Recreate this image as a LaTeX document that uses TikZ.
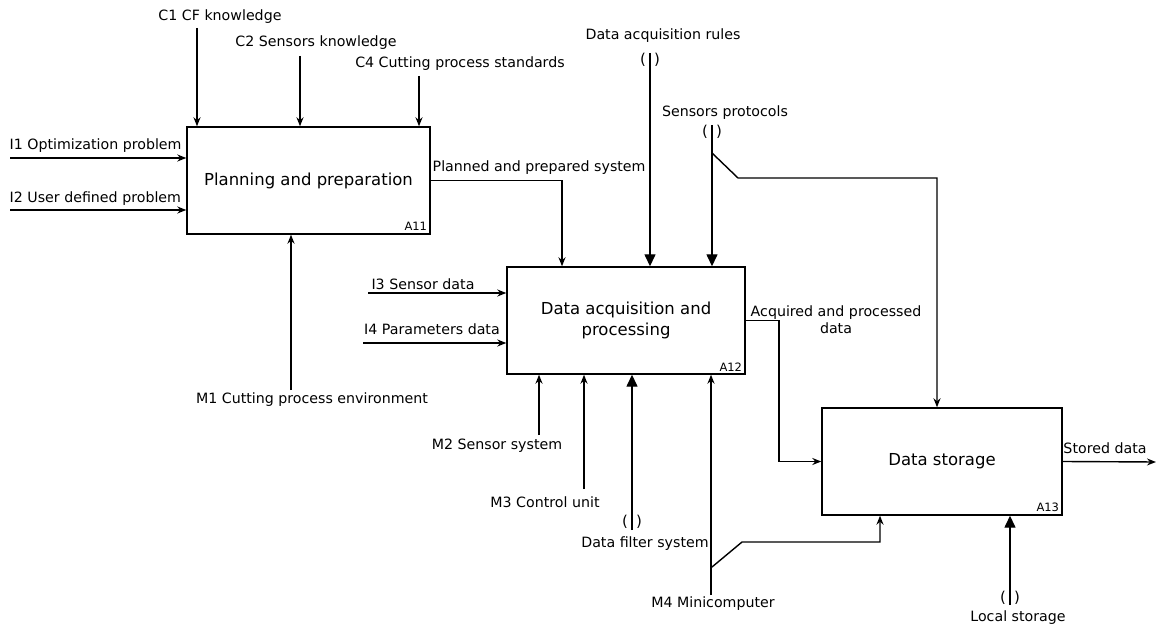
\documentclass[tikz,border=0pt]{standalone}
\usepackage{fontspec}
\setmainfont{DejaVu Sans}
\usetikzlibrary{arrows.meta}

\begin{document}
\begin{tikzpicture}[x=1pt, y=-1pt, line width=1.4pt,
    act/.style={draw, rectangle, minimum width=240pt, minimum height=107pt, align=center, font=\fontsize{16.5}{21}\selectfont},
    lbl/.style={font=\fontsize{14.2}{17}\selectfont, inner sep=1pt, align=center},
    tag/.style={font=\fontsize{11.5}{13}\selectfont, anchor=south east, inner sep=3pt},
    arr/.style={-{Stealth[length=9pt,width=7pt]}},
    tun/.style={-{Triangle[length=12pt,width=11pt]}},
    par/.style={font=\fontsize{15}{17}\selectfont, inner sep=0pt}]
  \useasboundingbox (0,0) rectangle (1157,628);

  % activity boxes
  \node[act, minimum width=243pt] (pp) at (308.5,180.5) {Planning and preparation};
  \node[act, minimum width=238pt] (dap) at (626,320.5) {Data acquisition and\\processing};
  \node[act] (ds) at (942,461.5) {Data storage};
  \node[tag] (pp-id) at (pp.south east) {A11};
  \node[tag] (dap-id) at (dap.south east) {A12};
  \node[tag] (ds-id) at (ds.south east) {A13};

  % labels
  \node[lbl] (c1) at (220,17) {C1 CF knowledge};
  \node[lbl] (c2) at (316,43) {C2 Sensors knowledge};
  \node[lbl] (c4) at (460,64) {C4 Cutting process standards};
  \node[lbl, anchor=west] (i1) at (8,146) {I1 Optimization problem};
  \node[lbl, anchor=west] (i2) at (8,199) {I2 User defined problem};
  \node[lbl] (m1) at (312,400) {M1 Cutting process environment};
  \node[lbl, anchor=west] (pl) at (431,168) {Planned and prepared system};
  \node[lbl] (rl) at (663,36) {Data acquisition rules};
  \node[lbl] (pr) at (725,113) {Sensors protocols};
  \node[lbl] (i3) at (423,284) {I3 Sensor data};
  \node[lbl] (i4) at (432,329) {I4 Parameters data};
  \node[lbl] (m2) at (497,446) {M2 Sensor system};
  \node[lbl] (m3) at (545,502) {M3 Control unit};
  \node[lbl] (fi) at (645,544) {Data filter system};
  \node[lbl] (m4) at (713,604) {M4 Minicomputer};
  \node[lbl] (ac) at (836,320) {Acquired and processed\\data};
  \node[lbl] (st) at (1105,448) {Stored data};
  \node[lbl] (lo) at (1018,618) {Local storage};

  % tunnels
  \node[par] (t1) at (650,60) {(\hspace{8pt})};
  \node[par] (t2) at (712,132) {(\hspace{8pt})};
  \node[par] (t3) at (632,522) {(\hspace{8pt})};
  \node[par] (t4) at (1010,598) {(\hspace{8pt})};

  % free ends and bends
  \coordinate (c1s) at (197,28);
  \coordinate (c2s) at (300,56);
  \coordinate (c4s) at (419,76);
  \coordinate (i1s) at (10,158);
  \coordinate (i2s) at (10,210);
  \coordinate (m1s) at (291,390);
  \coordinate (rls) at (650,53);
  \coordinate (prs) at (712,125);
  \coordinate (i3s) at (368,293);
  \coordinate (i4s) at (363,343);
  \coordinate (m2s) at (539,435);
  \coordinate (m3s) at (584,489);
  \coordinate (fis) at (632,530);
  \coordinate (m4s) at (711,595);
  \coordinate (los) at (1010,605);
  \coordinate (sto) at (1156,462);
  \coordinate (plx) at (562,180.5);
  \coordinate (acx) at (779,400);
  \coordinate (pb1) at (712,153);
  \coordinate (pb2) at (738,178);
  \coordinate (pbx) at (937,178);
  \coordinate (mb1) at (712,567);
  \coordinate (mb2) at (742,542);
  \coordinate (mbx) at (880,542);

  % A11
  \draw[arr] (c1s) -- (pp.north -| c1s);
  \draw[arr] (c2s) -- (pp.north -| c2s);
  \draw[arr] (c4s) -- (pp.north -| c4s);
  \draw[arr] (i1s) -- (pp.west |- i1s);
  \draw[arr] (i2s) -- (pp.west |- i2s);
  \draw[arr] (m1s) -- (pp.south -| m1s);
  \draw[arr] (pp.east) -- (plx) -- (dap.north -| plx);

  % A12
  \draw[tun] (rls) -- (dap.north -| rls);
  \draw[tun] (prs) -- (dap.north -| prs);
  \draw[arr] (i3s) -- (dap.west |- i3s);
  \draw[arr] (i4s) -- (dap.west |- i4s);
  \draw[arr] (m2s) -- (dap.south -| m2s);
  \draw[arr] (m3s) -- (dap.south -| m3s);
  \draw[tun] (fis) -- (dap.south -| fis);
  \draw[arr] (m4s) -- (dap.south -| m4s);
  \draw[arr] (dap.east) -| (acx) |- (ds.west);

  % A13
  \draw[arr] (pb1) -- (pb2) -- (pbx) -- (ds.north -| pbx);
  \draw[arr] (mb1) -- (mb2) -- (mbx) -- (ds.south -| mbx);
  \draw[tun] (los) -- (ds.south -| los);
  \draw[arr] (ds.east) -- (sto);
\end{tikzpicture}
\end{document}
